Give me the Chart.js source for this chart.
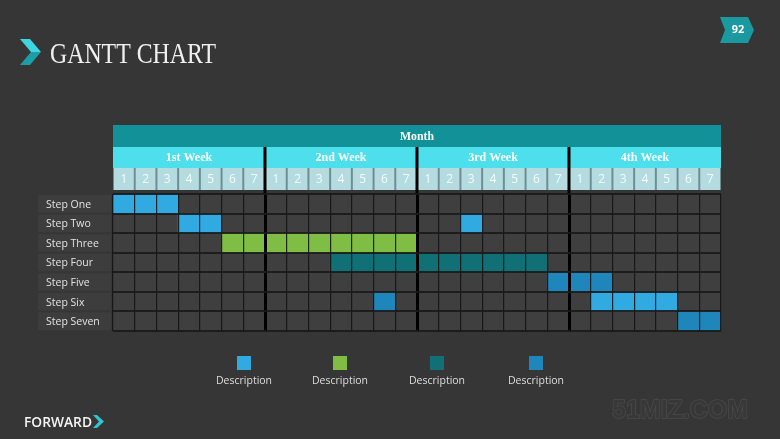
<!DOCTYPE html>
<html>
<head>
<meta charset="utf-8">
<script src="https://cdn.jsdelivr.net/npm/chart.js@4.4.1/dist/chart.umd.min.js"></script>
<style>
  html, body { margin: 0; padding: 0; background: #363636; }
  #wrap { position: relative; width: 780px; height: 439px; }
</style>
</head>
<body>
<div id="wrap"><canvas id="gantt" width="780" height="439"></canvas></div>
<script>
// rows, header labels
const steps = ['Step One', 'Step Two', 'Step Three', 'Step Four', 'Step Five', 'Step Six', 'Step Seven'];
const weeks = ['1st Week', '2nd Week', '3rd Week', '4th Week'];
const days = ['1', '2', '3', '4', '5', '6', '7'];
const monthLabel = 'Month';

// segments: [step, start column, end column], columns are days 0..28
const seriesA = [['Step One', 0, 3], ['Step Two', 3, 5], ['Step Two', 16, 17], ['Step Six', 22, 26]];
const seriesB = [['Step Three', 5, 14]];
const seriesC = [['Step Four', 10, 20]];
const seriesD = [['Step Five', 20, 23], ['Step Six', 12, 13], ['Step Seven', 26, 28]];
const legendLabels = ['Description', 'Description', 'Description', 'Description'];
const colors = ['#31a9e1', '#80bd45', '#117076', '#1e86bb'];

const totalDays = weeks.length * days.length;

function toBars(s) {
    return s.map(d => ({ y: d[0], x: [d[1], d[2]] }));
}

const datasets = [seriesA, seriesB, seriesC, seriesD].map((s, i) => ({
    label: legendLabels[i],
    data: toBars(s),
    backgroundColor: colors[i],
    borderWidth: 0,
    grouped: false,
    barPercentage: 1,
    categoryPercentage: 1
}));

function isWeekEdge(c) {
    return c.tick && c.tick.value % 7 === 0 && c.tick.value > 0 && c.tick.value < totalDays;
}

// everything around the grid: background, headers, row labels, legend, title
const decor = {
    id: 'decor',
    beforeDraw(chart) {
        const c = chart.ctx;
        const xs = chart.scales.x;
        const ys = chart.scales.y;
        const area = chart.chartArea;
        c.save();
        c.fillStyle = '#363636';
        c.fillRect(0, 0, chart.width, chart.height);

        // grid cells
        c.fillStyle = '#3f3f3f';
        c.fillRect(area.left, area.top, area.right - area.left, area.bottom - area.top);

        // row labels
        const rowH = (area.bottom - area.top) / steps.length;
        c.font = '10.5px "Open Sans"';
        c.textBaseline = 'middle';
        c.textAlign = 'left';
        steps.forEach((s, i) => {
            const cy = ys.getPixelForValue(i);
            c.fillStyle = '#3d3d3d';
            c.fillRect(38, cy - rowH / 2 + 1, 73, rowH - 2);
            c.fillStyle = '#e2e2e2';
            c.fillText(s, 46, cy + 1);
        });

        const x0 = xs.getPixelForValue(0);
        const x1 = xs.getPixelForValue(totalDays);

        // month row
        c.fillStyle = '#139198';
        c.fillRect(x0, 125, x1 - x0, 22);
        c.fillStyle = '#ffffff';
        c.textAlign = 'center';
        c.font = 'bold 12px "Liberation Serif"';
        c.fillText(monthLabel, (x0 + x1) / 2, 137, 34);

        // week row
        c.fillStyle = '#4ddfeb';
        c.fillRect(x0, 147, x1 - x0, 21);
        c.fillStyle = '#ffffff';
        weeks.forEach((w, i) => {
            const a = xs.getPixelForValue(i * 7);
            const b = xs.getPixelForValue(i * 7 + 7);
            c.fillText(w, (a + b) / 2, 158, 52);
        });

        // day row
        c.fillStyle = '#6f8d90';
        c.fillRect(x0, 168, x1 - x0, 22);
        c.font = '12px "Open Sans"';
        for (let d = 0; d < totalDays; d++) {
            const a = xs.getPixelForValue(d);
            const b = xs.getPixelForValue(d + 1);
            c.fillStyle = '#b4dce0';
            c.fillRect(a + 1, 168, b - a - 2, 22);
            c.fillStyle = '#f4fbfb';
            c.fillText(days[d % days.length], (a + b) / 2, 180);
        }

        // week separators through the header
        c.fillStyle = '#000000';
        for (let i = 1; i < weeks.length; i++) {
            const px = xs.getPixelForValue(i * 7);
            c.fillRect(px - 1.5, 147, 3, area.top - 147);
        }

        // title
        c.fillStyle = '#3ed6e2';
        c.beginPath();
        c.moveTo(20, 39); c.lineTo(30, 39); c.lineTo(41, 52); c.lineTo(31, 52);
        c.closePath(); c.fill();
        c.fillStyle = '#1a9fa8';
        c.beginPath();
        c.moveTo(31, 52); c.lineTo(41, 52); c.lineTo(30, 65); c.lineTo(20, 65);
        c.closePath(); c.fill();
        c.fillStyle = '#f0f0f0';
        c.textAlign = 'left';
        c.textBaseline = 'alphabetic';
        c.font = '30px "Liberation Serif"';
        c.fillText('GANTT CHART', 50, 63, 166);

        // page badge
        c.fillStyle = '#1a9aa0';
        c.beginPath();
        c.moveTo(720, 17); c.lineTo(748, 17); c.lineTo(754, 30);
        c.lineTo(748, 43); c.lineTo(720, 43); c.lineTo(725, 30);
        c.closePath(); c.fill();
        c.fillStyle = '#ffffff';
        c.font = 'bold 11px "Open Sans"';
        c.textAlign = 'center';
        c.textBaseline = 'middle';
        c.fillText('92', 738, 30);

        // legend
        const legendX = [244, 340, 437, 536];
        legendLabels.forEach((l, i) => {
            c.fillStyle = colors[i];
            c.fillRect(legendX[i] - 7, 356, 14, 14);
            c.fillStyle = '#dedede';
            c.font = '10.5px "Open Sans"';
            c.fillText(l, legendX[i], 381);
        });

        // footer
        c.textAlign = 'left';
        c.textBaseline = 'alphabetic';
        c.fillStyle = '#f5f5f5';
        c.font = '600 14px "Open Sans"';
        c.fillText('FORWARD', 24, 427, 68);
        c.fillStyle = '#2ec6d2';
        c.beginPath();
        c.moveTo(93, 415); c.lineTo(97, 415); c.lineTo(104, 421.5); c.lineTo(97, 428); c.lineTo(93, 428); c.lineTo(99, 421.5);
        c.closePath(); c.fill();

        c.font = 'bold 25px "Liberation Sans"';
        c.fillStyle = '#383838';
        c.strokeStyle = '#4a4a4a';
        c.lineWidth = 1.5;
        c.strokeText('51MIZ.COM', 612, 418, 149);
        c.fillText('51MIZ.COM', 612, 418, 149);
        c.restore();
    }
};

const chart = new Chart(document.getElementById('gantt').getContext('2d'), {
    type: 'bar',
    data: { labels: steps, datasets: datasets },
    options: {
        indexAxis: 'y',
        responsive: false,
        animation: false,
        layout: { padding: { left: 113, right: 59, top: 194, bottom: 108 } },
        plugins: { legend: { display: false }, tooltip: { enabled: false } },
        scales: {
            x: {
                type: 'linear', min: 0, max: totalDays,
                ticks: { display: false, stepSize: 1 },
                border: { display: false },
                grid: {
                    z: 1,
                    drawTicks: false,
                    color: c => isWeekEdge(c) ? '#000000' : 'rgba(20,20,20,0.9)',
                    lineWidth: c => isWeekEdge(c) ? 3 : 1.2
                }
            },
            y: {
                type: 'category',
                ticks: { display: false },
                border: { display: false },
                grid: { z: 1, drawTicks: false, offset: true, color: 'rgba(25,25,25,0.9)', lineWidth: 2 }
            }
        }
    },
    plugins: [decor]
});
</script>
</body>
</html>
